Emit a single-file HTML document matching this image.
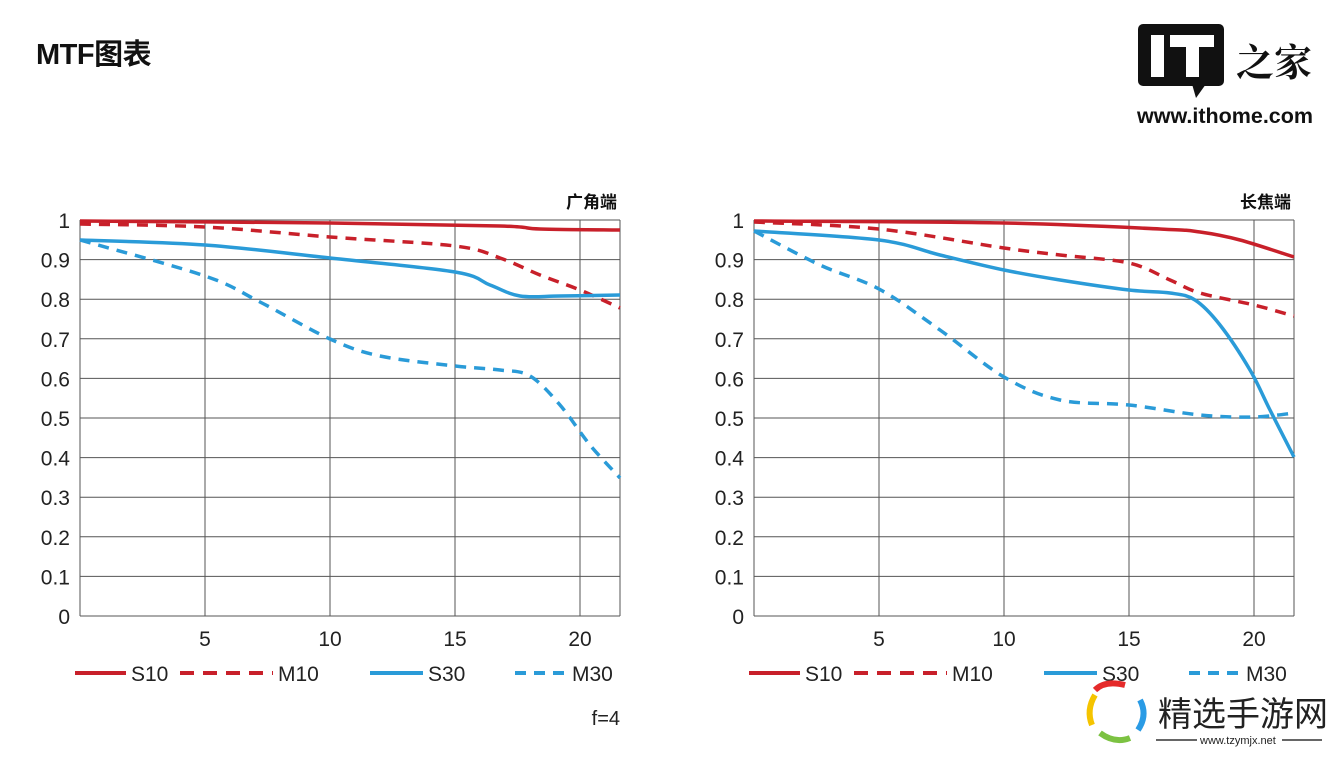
<!DOCTYPE html>
<html><head><meta charset="utf-8"><style>
body{margin:0;background:#fff;width:1334px;height:752px;overflow:hidden;font-family:"Liberation Sans","Noto Sans CJK SC",sans-serif;}
</style></head><body>
<svg id="s" width="1334" height="752" xmlns="http://www.w3.org/2000/svg" font-family="Liberation Sans, Noto Sans CJK SC, sans-serif">
<text x="36" y="64" font-size="29" font-weight="bold" fill="#111" letter-spacing="-0.5">MTF图表</text>
<rect x="1138" y="24" width="86" height="62" rx="5" fill="#111"/>
<polygon points="1192,84 1206,84 1196,98" fill="#111"/>
<rect x="1151" y="35" width="13" height="42" fill="#fff"/>
<rect x="1170" y="35" width="44" height="12" fill="#fff"/>
<rect x="1186" y="35" width="13" height="42" fill="#fff"/>
<text x="1236" y="76" font-size="38" font-weight="bold" fill="#111" font-family="Noto Serif CJK SC, serif">之家</text>
<text x="1137" y="123" font-size="21.5" font-weight="bold" fill="#111">www.ithome.com</text>
<g id="g"></g>
<text x="617" y="208" font-size="17" font-weight="bold" text-anchor="end" fill="#111">广角端</text>
<text x="1291" y="208" font-size="17" font-weight="bold" text-anchor="end" fill="#111">长焦端</text>
<text x="620" y="725" font-size="20" text-anchor="end" fill="#222">f=4</text>
<g>
<path d="M1095,690 q10,-10 30,-5" stroke="#e52a2a" stroke-width="6" fill="none"/>
<path d="M1140,700 q8,15 -2,30" stroke="#2a9be5" stroke-width="6" fill="none"/>
<path d="M1130,738 q-15,6 -30,-5" stroke="#7cc242" stroke-width="6" fill="none"/>
<path d="M1092,725 q-6,-15 3,-30" stroke="#f5c400" stroke-width="6" fill="none"/>
<text x="1158" y="726" font-size="34" fill="#222">精选手游网</text>
<line x1="1156" y1="740" x2="1197" y2="740" stroke="#333" stroke-width="1.5"/>
<line x1="1282" y1="740" x2="1322" y2="740" stroke="#333" stroke-width="1.5"/>
<text x="1200" y="744" font-size="11" fill="#222">www.tzymjx.net</text>
</g>
</svg>
<script>
var g=document.getElementById('g'),h='';
function path(p){var d='M'+p[0][0]+','+p[0][1];for(var i=0;i<p.length-1;i++){var a=p[i-1]||p[i],b=p[i],c=p[i+1],e=p[i+2]||c;
d+=' C'+(b[0]+(c[0]-a[0])/6)+','+(b[1]+(c[1]-a[1])/6)+' '+(c[0]-(e[0]-b[0])/6)+','+(c[1]-(e[1]-b[1])/6)+' '+c[0]+','+c[1];}return d;}
function chart(x0,series){
 var x1=x0+540;
 for(var i=0;i<=10;i++){var y=220+i*39.6;h+='<line x1="'+x0+'" x2="'+x1+'" y1="'+y+'" y2="'+y+'" stroke="#555" stroke-width="1"/>';
  var l=(i==0?'1':i==10?'0':(1-i/10).toFixed(1));h+='<text x="'+(x0-10)+'" y="'+(y+8)+'" font-size="21" text-anchor="end" fill="#222">'+l+'</text>';}
 for(var k=1;k<=4;k++){var x=x0+k*125;h+='<line x1="'+x+'" x2="'+x+'" y1="220" y2="616" stroke="#555"/>';
  h+='<text x="'+x+'" y="646" font-size="21" text-anchor="middle" fill="#222">'+(k*5)+'</text>';}
 h+='<line x1="'+x0+'" x2="'+x0+'" y1="220" y2="616" stroke="#555"/><line x1="'+x1+'" x2="'+x1+'" y1="220" y2="616" stroke="#555"/>';
 var st=[['#c8202a',''],['#c8202a','14,9'],['#2a9bd8',''],['#2a9bd8','11,8']];
 series.forEach(function(p,j){h+='<path d="'+path(p.map(function(q){return [q[0]+x0,q[1]]}))+'" fill="none" stroke="'+st[j][0]+'" stroke-width="3.5" stroke-dasharray="'+(j%2?'11,8':'')+'"/>';});
 var lg=[[-5,51,'S10'],[100,93,'M10'],[290,53,'S30'],[435,52,'M30']];
 lg.forEach(function(L,j){var lx=x0+L[0];h+='<line x1="'+lx+'" x2="'+(lx+L[1])+'" y1="673" y2="673" stroke="'+st[j][0]+'" stroke-width="4" stroke-dasharray="'+st[j][1]+'"/>';
  h+='<text x="'+(lx+L[1]+5)+'" y="681" font-size="21" fill="#222">'+L[2]+'</text>';});
}
chart(80,[
 [[0,221],[250,223],[420,226],[460,229],[540,230]],
 [[0,224],[125,227],[250,237],[375,246],[420,258],[460,275],[500,290],[540,308]],
 [[0,240],[125,245],[250,258],[375,272],[410,285],[440,296],[480,296],[540,295]],
 [[0,240],[125,276],[180,302],[250,339],[300,356],[375,366],[420,370],[450,376],[480,405],[510,445],[540,478]]
]);
chart(754,[
 [[0,221],[250,223],[406,229],[446,232],[486,240],[540,257]],
 [[0,222],[125,229],[250,248],[306,255],[375,263],[416,280],[446,293],[500,305],[540,316]],
 [[0,231],[125,240],[186,255],[250,270],[306,280],[375,290],[416,293],[441,300],[466,325],[496,370],[516,410],[540,457]],
 [[0,231],[66,265],[125,289],[186,330],[250,377],[306,400],[375,405],[446,415],[500,417],[540,413]]
]);
g.innerHTML=h;
</script>
</body></html>
